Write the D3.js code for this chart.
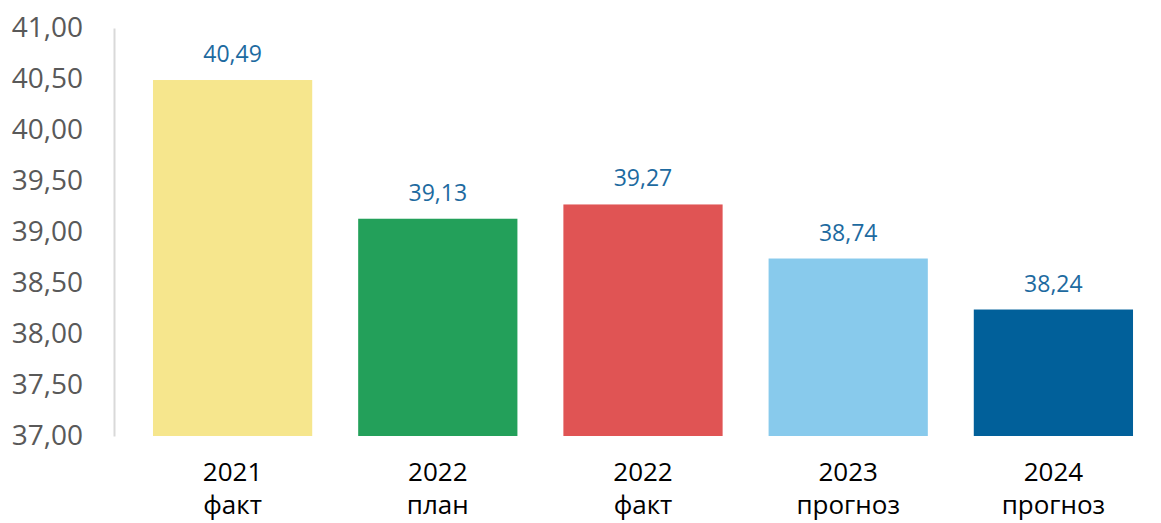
<!DOCTYPE html>
<html>
<head>
<meta charset="utf-8">
<script src="https://cdn.jsdelivr.net/npm/d3@7"></script>
<style>
  body { margin: 0; background: #fff; }
  svg { display: block; font-family: 'Open Sans', 'Noto Sans', sans-serif; }
</style>
</head>
<body>
<svg id="chart"></svg>
<script>
const years = ['2021', '2022', '2022', '2023', '2024'];
const kinds = ['факт', 'план', 'факт', 'прогноз', 'прогноз'];
const values = [40.49, 39.13, 39.27, 38.74, 38.24];
const colors = ['#f6e68d', '#23a05a', '#e05454', '#88caec', '#01609a'];
const yTicks = [37, 37.5, 38, 38.5, 39, 39.5, 40, 40.5, 41];

const width = 1161;
const height = 523;

const fmt = v => d3.format('.2f')(v).replace('.', ',');

const svg = d3.select('#chart')
  .attr('width', width)
  .attr('height', height);

const x = d3.scaleBand()
  .domain(d3.range(values.length))
  .range([130, 1156])
  .paddingInner(0.224)
  .paddingOuter(0.112);

const y = d3.scaleLinear()
  .domain([37, 41])
  .range([436, 28]);

// y axis
const yAxis = svg.append('g')
  .attr('transform', 'translate(114,0)')
  .call(d3.axisLeft(y).tickValues(yTicks).tickFormat(fmt).tickSize(0).tickPadding(31));

yAxis.select('.domain').attr('stroke', '#d9d9d9').attr('stroke-width', 2);
yAxis.selectAll('text')
  .attr('fill', '#595959')
  .attr('font-size', 28)
  .attr('font-family', "'Open Sans', 'Noto Sans', sans-serif");

// bars
svg.append('g')
  .selectAll('rect')
  .data(values)
  .join('rect')
  .attr('x', (d, i) => x(i))
  .attr('y', d => y(d))
  .attr('width', x.bandwidth())
  .attr('height', d => y(37) - y(d))
  .attr('fill', (d, i) => colors[i]);

// value labels
svg.append('g')
  .selectAll('text')
  .data(values)
  .join('text')
  .attr('x', (d, i) => x(i) + x.bandwidth() / 2)
  .attr('y', d => y(d) - 18)
  .attr('text-anchor', 'middle')
  .attr('font-size', 23)
  .attr('fill', '#1d6aa0')
  .text(fmt);

// category labels
const cats = svg.append('g')
  .selectAll('text')
  .data(values)
  .join('text')
  .attr('text-anchor', 'middle')
  .attr('font-size', 26)
  .attr('fill', '#000');

cats.append('tspan')
  .attr('x', (d, i) => x(i) + x.bandwidth() / 2)
  .attr('y', 481)
  .text((d, i) => years[i]);

cats.append('tspan')
  .attr('x', (d, i) => x(i) + x.bandwidth() / 2)
  .attr('y', 514)
  .text((d, i) => kinds[i]);
</script>
</body>
</html>
